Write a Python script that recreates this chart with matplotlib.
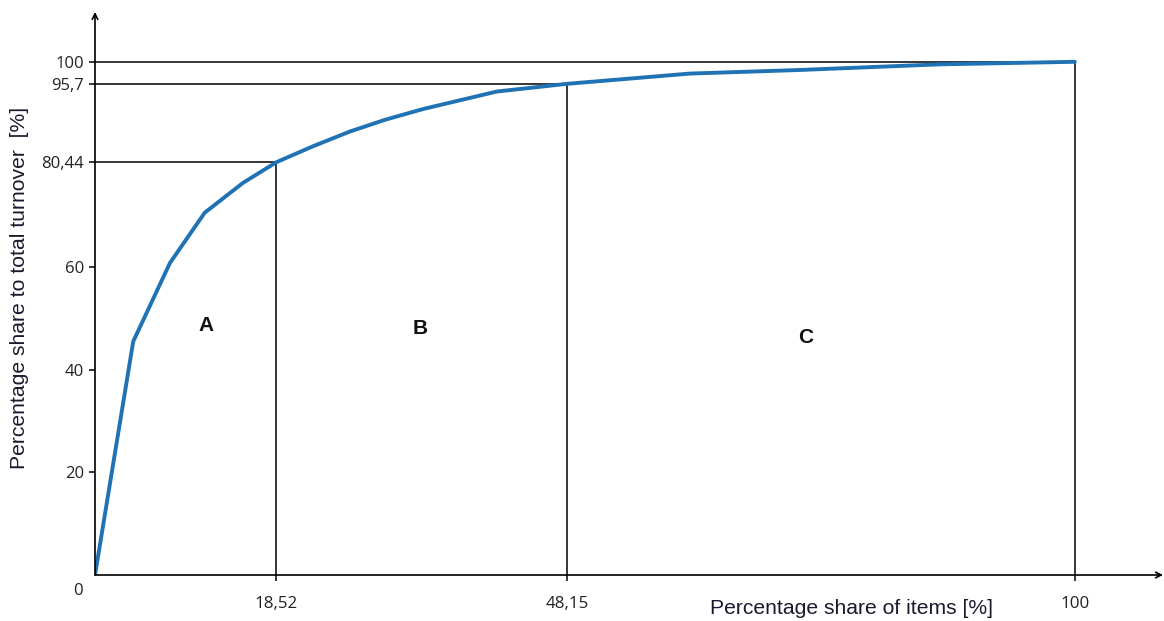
import matplotlib
matplotlib.use("Agg")
import matplotlib.pyplot as plt

# cumulative curve (ABC analysis)
items_share = [0, 3.9, 7.65, 11.2, 15.1, 18.52, 22.2, 26.0, 29.6, 33.5, 41.0, 48.15,
               60.7, 71.9, 86.2, 100]
turnover_share = [0, 45.5, 60.8, 70.6, 76.4, 80.44, 83.5, 86.4, 88.7, 90.8, 94.2, 95.7,
                  97.7, 98.4, 99.5, 100]

# class boundaries
bound_x = [18.52, 48.15, 100]
bound_y = [80.44, 95.7, 100]
x_tick_labels = ["18,52", "48,15", "100"]
y_ticks = [20, 40, 60, 80.44, 95.7, 100]
y_tick_labels = ["20", "40", "60", "80,44", "95,7", "100"]

classes = ["A", "B", "C"]
class_x = [11.3, 33.2, 72.5]
class_y = [48.7, 48.1, 46.2]

W, H = 1164, 621
X_MAX, Y_MAX = 109.0, 109.7
TICK_FONT = "Open Sans"
LABEL_FONT = "Liberation Sans"

fig = plt.figure(figsize=(W / 100, H / 100), dpi=100)
ax = fig.add_axes([95 / W, (H - 575) / H, (1163 - 95) / W, (575 - 12) / H])
ax.set_xlim(0, X_MAX)
ax.set_ylim(0, Y_MAX)
for side in ["top", "right", "left", "bottom"]:
    ax.spines[side].set_visible(False)

# axes with arrow heads
arrow = dict(arrowstyle="->", color="black", lw=1.2, shrinkA=0, shrinkB=0,
             mutation_scale=10)
ax.annotate("", xy=(X_MAX, 0), xytext=(0, 0), arrowprops=arrow, annotation_clip=False)
ax.annotate("", xy=(0, Y_MAX), xytext=(0, 0), arrowprops=arrow, annotation_clip=False)

# boundary lines
for bx, by in zip(bound_x, bound_y):
    ax.plot([0, bx], [by, by], color="black", lw=1.1, solid_capstyle="butt")
    ax.plot([bx, bx], [0, by], color="black", lw=1.1, solid_capstyle="butt")

ax.plot(items_share, turnover_share, color="#1f72b3", lw=2.8,
        solid_joinstyle="round", solid_capstyle="round")

for name, cx, cy in zip(classes, class_x, class_y):
    ax.text(cx, cy, name, fontsize=15, fontweight="bold", ha="center", va="center",
            family=LABEL_FONT, color="#111111")

ax.set_xticks(bound_x)
ax.set_xticklabels(x_tick_labels, family=TICK_FONT, fontsize=12.2, color="#222222")
ax.set_yticks(y_ticks)
ax.set_yticklabels(y_tick_labels, family=TICK_FONT, fontsize=12, color="#222222")
ax.tick_params(axis="x", direction="out", length=4, width=1.1, pad=11)
ax.tick_params(axis="y", direction="out", length=4, width=1.1, pad=4)
ax.text(-1.7, -3.2, "0", ha="center", va="center", family=TICK_FONT, fontsize=12,
        color="#222222", clip_on=False)

fig.text(852 / W, 1 - 608 / H, "Percentage share of items [%]", ha="center", va="center",
         family=LABEL_FONT, fontsize=15.2, color="#1a1a2e")
fig.text(20 / W, 1 - 288 / H, "Percentage share to total turnover  [%]", ha="center",
         va="center", rotation=90, family=LABEL_FONT, fontsize=15.2, color="#1a1a2e")

fig.savefig("out.png", dpi=100, facecolor="white")
